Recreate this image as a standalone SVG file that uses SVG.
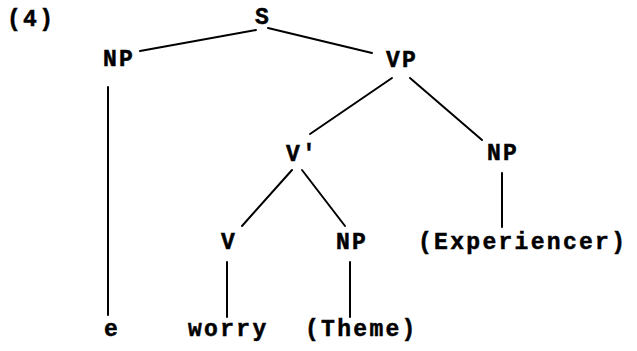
<svg xmlns="http://www.w3.org/2000/svg" width="637" height="351" viewBox="0 0 637 351">
<style>
text{font-family:"Liberation Mono","Courier New",monospace;font-weight:bold;font-size:23px;letter-spacing:2.3px;fill:#000;stroke:#000;stroke-width:0.5px}
line{stroke:#000;stroke-width:2;stroke-linecap:round}
</style>
<rect width="637" height="351" fill="#fff"/>
<text id="label" x="7" y="26">(4)</text>
<g id="edges">
<line x1="256" y1="30" x2="140" y2="51"/>
<line x1="268" y1="28" x2="372" y2="53"/>
<line x1="392" y1="78" x2="310" y2="134"/>
<line x1="410" y1="78" x2="482" y2="140"/>
<line x1="292" y1="170" x2="242" y2="226"/>
<line x1="302" y1="170" x2="345" y2="226"/>
<line x1="108" y1="87" x2="108" y2="315"/>
<line x1="502" y1="173" x2="502" y2="227"/>
<line x1="227" y1="262" x2="227" y2="317"/>
<line x1="350" y1="262" x2="350" y2="317"/>
</g>
<g id="S"><text x="255" y="24">S</text></g>
<g id="NP1"><text x="103" y="66">NP</text></g>
<g id="VP"><text x="386" y="67">VP</text></g>
<g id="Vbar"><text x="286" y="161">V'</text></g>
<g id="NP2"><text x="487" y="160">NP</text></g>
<g id="V"><text x="221" y="249">V</text></g>
<g id="NP3"><text x="336" y="249">NP</text></g>
<g id="Exp"><text x="418" y="249">(Experiencer)</text></g>
<g id="e"><text x="104" y="336">e</text></g>
<g id="worry"><text x="188" y="336">worry</text></g>
<g id="Theme"><text x="305" y="336">(Theme)</text></g>
</svg>
